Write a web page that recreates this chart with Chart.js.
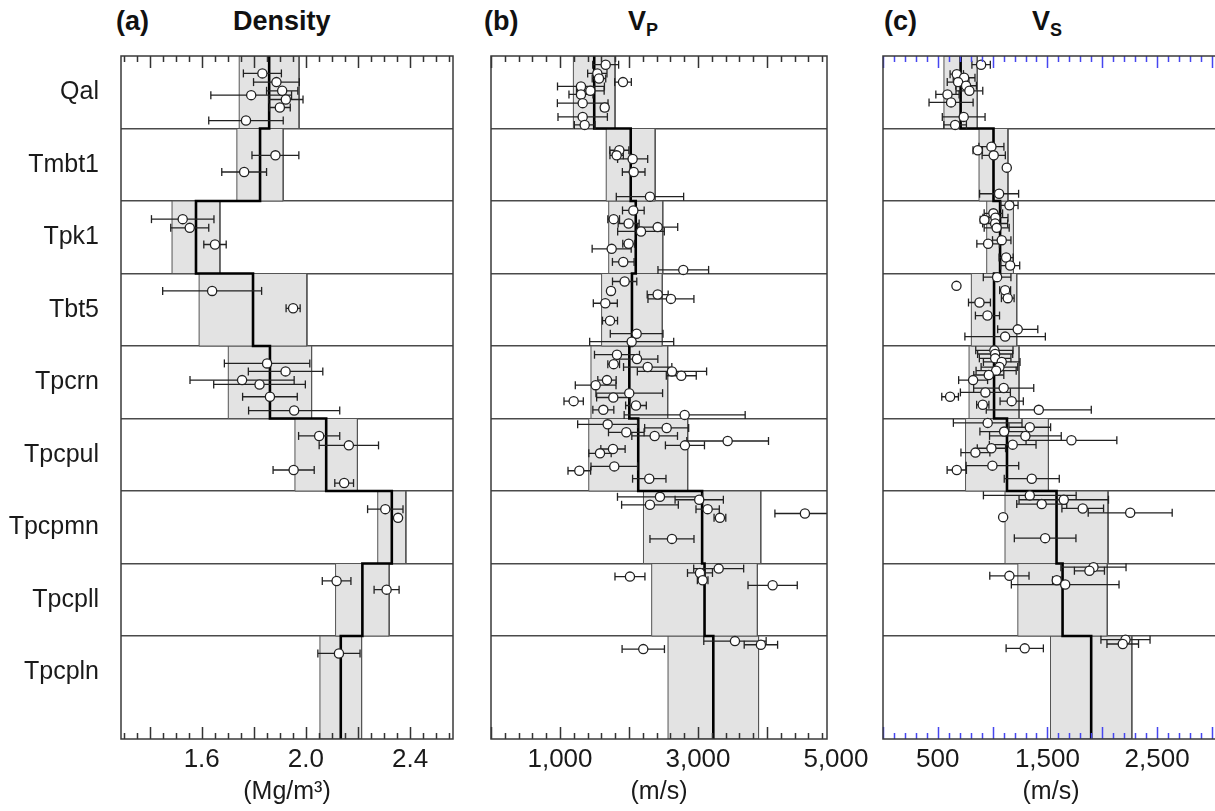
<!DOCTYPE html>
<html>
<head>
<meta charset="utf-8">
<script src="https://cdn.jsdelivr.net/npm/chart.js@4.4.0/dist/chart.umd.min.js"></script>
<style>
    body { margin: 0; width: 1215px; height: 811px; overflow: hidden; background: #fff; position: relative; font-family: "Liberation Sans", Arial, sans-serif; color: #111; }
    .panel { position: absolute; top: 0; height: 811px; }
    .tag { position: absolute; top: 8px; font-size: 27px; line-height: 27px; font-weight: bold; white-space: nowrap; }
    .tag sub { font-size: 18px; vertical-align: -6px; }
</style>
</head>
<body>
<div class="tag" style="left:116px">(a)</div>
<div class="tag" style="left:233px">Density</div>
<div class="tag" style="left:484px">(b)</div>
<div class="tag" style="left:628px">V<sub>P</sub></div>
<div class="tag" style="left:884px">(c)</div>
<div class="tag" style="left:1032px">V<sub>S</sub></div>

<div class="panel" style="left:0;width:470px"><canvas id="rho"></canvas></div>
<div class="panel" style="left:470px;width:410px"><canvas id="vp"></canvas></div>
<div class="panel" style="left:862px;width:370px"><canvas id="vs"></canvas></div>

<script>
const units = ["Qal", "Tmbt1", "Tpk1", "Tbt5", "Tpcrn", "Tpcpul", "Tpcpmn", "Tpcpll", "Tpcpln"];
// unit boundaries on the depth axis (last unit is thicker)
const rowEdges = [0, 1, 2, 3, 4, 5, 6, 7, 8, 9.42];

const rhoTicks = [1.6, 2.0, 2.4];
const vpTicks = [1000, 3000, 5000];
const vsTicks = [500, 1500, 2500];

// unit mean and standard deviation
const rhoMean = [1.859, 1.824, 1.578, 1.797, 1.862, 2.078, 2.33, 2.217, 2.134];
const rhoSd = [0.115, 0.089, 0.092, 0.207, 0.16, 0.12, 0.054, 0.103, 0.08];
const vpMean = [1496, 2025, 2098, 2043, 2005, 2134, 3060, 3095, 3222];
const vpSd = [302, 355, 392, 440, 556, 717, 850, 766, 656];
const vsMean = [708, 1008, 1068, 1013, 1013, 1131, 1583, 1638, 1899];
const vsSd = [152, 132, 122, 207, 228, 378, 470, 408, 371];

// samples: [depth position, value, error]
const rhoPts = [
    [0.24, 1.833, 0.073], [0.36, 1.887, 0.088], [0.48, 1.909, 0.06], [0.54, 1.79, 0.155],
    [0.60, 1.923, 0.066], [0.71, 1.90, 0.04], [0.89, 1.77, 0.143],
    [1.37, 1.883, 0.09], [1.60, 1.763, 0.086],
    [2.25, 1.527, 0.12], [2.37, 1.554, 0.073], [2.60, 1.651, 0.043],
    [3.24, 1.64, 0.19], [3.48, 1.951, 0.027],
    [4.24, 1.851, 0.164], [4.35, 1.922, 0.143], [4.47, 1.755, 0.2], [4.53, 1.822, 0.176],
    [4.70, 1.862, 0.105], [4.89, 1.955, 0.175],
    [5.24, 2.051, 0.079], [5.37, 2.165, 0.114], [5.71, 1.953, 0.079], [5.89, 2.147, 0.036],
    [6.25, 2.305, 0.068], [6.37, 2.354, 0.01],
    [7.24, 2.118, 0.055], [7.36, 2.31, 0.048],
    [8.24, 2.127, 0.081]
];
const vpPts = [
    [0.12, 1662, 188], [0.24, 1541, 140], [0.31, 1565, 98], [0.36, 1913, 121], [0.42, 1304, 340],
    [0.48, 1440, 200], [0.53, 1304, 174], [0.65, 1329, 367], [0.71, 1648, 50], [0.84, 1329, 358], [0.95, 1358, 150],
    [1.30, 1860, 138], [1.37, 1821, 97], [1.42, 2053, 218], [1.60, 2068, 164], [1.94, 2304, 488],
    [2.13, 2063, 157], [2.25, 1778, 85], [2.31, 1995, 152], [2.36, 2416, 290], [2.42, 2174, 338],
    [2.59, 1995, 85], [2.66, 1749, 283], [2.84, 1917, 157], [2.95, 2787, 367],
    [3.11, 1937, 176], [3.24, 1739, 40], [3.29, 2416, 152], [3.35, 2608, 333], [3.41, 1657, 174],
    [3.65, 1725, 109], [3.83, 2111, 382], [3.94, 2039, 609],
    [4.12, 1826, 326], [4.18, 2116, 302], [4.25, 1778, 85], [4.29, 2271, 350], [4.35, 2623, 502],
    [4.41, 2758, 217], [4.47, 1681, 133], [4.54, 1517, 295], [4.65, 2004, 483], [4.71, 1773, 242],
    [4.76, 1198, 140], [4.82, 2101, 150], [4.88, 1628, 152], [4.95, 2807, 877],
    [5.08, 1691, 435], [5.13, 2546, 319], [5.19, 1961, 258], [5.24, 2372, 331], [5.31, 3430, 592],
    [5.37, 2811, 283], [5.42, 1768, 176], [5.48, 1580, 162], [5.66, 1787, 338], [5.72, 1280, 164], [5.83, 2294, 242],
    [6.08, 2449, 616], [6.12, 3018, 350], [6.19, 2304, 411], [6.25, 3140, 169], [6.31, 4550, 435],
    [6.37, 3318, 85], [6.66, 2623, 319],
    [7.07, 3300, 362], [7.13, 3029, 181], [7.18, 2014, 217], [7.23, 3068, 77], [7.30, 4082, 357],
    [8.07, 3536, 452], [8.12, 3912, 242], [8.18, 2207, 307]
];
const vsPts = [
    [0.12, 895, 84], [0.25, 673, 61], [0.30, 740, 99], [0.36, 685, 99], [0.41, 758, 94],
    [0.48, 788, 122], [0.53, 588, 106], [0.64, 621, 201], [0.84, 736, 195], [0.95, 658, 103],
    [1.25, 989, 114], [1.30, 864, 43], [1.37, 1010, 106], [1.54, 1129, 20], [1.90, 1059, 178],
    [2.06, 1153, 79], [2.17, 1007, 84], [2.23, 1026, 114], [2.26, 925, 38], [2.31, 1023, 114],
    [2.37, 1037, 114], [2.54, 1083, 84], [2.59, 959, 103], [2.78, 1123, 64], [2.89, 1160, 87],
    [3.05, 1041, 126], [3.17, 670, 15], [3.23, 1114, 50], [3.34, 1138, 58], [3.40, 880, 100],
    [3.58, 953, 110], [3.77, 1229, 183], [3.87, 1114, 367],
    [4.06, 1016, 170], [4.11, 1023, 160], [4.17, 1023, 144], [4.22, 1083, 167], [4.29, 1062, 167],
    [4.34, 1032, 183], [4.40, 965, 137], [4.47, 822, 132], [4.58, 1101, 274], [4.64, 934, 228],
    [4.70, 612, 76], [4.76, 1174, 106], [4.81, 910, 56], [4.88, 1421, 479],
    [5.06, 955, 313], [5.12, 1339, 190], [5.18, 1105, 221], [5.24, 1299, 327], [5.30, 1719, 414],
    [5.36, 1183, 213], [5.41, 989, 129], [5.47, 843, 132], [5.65, 998, 240], [5.71, 673, 88], [5.83, 1357, 251],
    [6.06, 1339, 423], [6.12, 1649, 408], [6.18, 1448, 228], [6.24, 1822, 190], [6.30, 2255, 383],
    [6.36, 1096, 20], [6.65, 1479, 281],
    [7.05, 1920, 297], [7.10, 1883, 137], [7.17, 1153, 179], [7.23, 1585, 38], [7.29, 1662, 491],
    [8.05, 2212, 224], [8.11, 2187, 144], [8.17, 1293, 170]
];

const ink = "#222";
const gap = { x: NaN, y: NaN };

// frame + inward tick marks along top and bottom
const frame = {
    id: "frame",
    afterDatasetsDraw(chart, args, o) {
        const { ctx, chartArea: a } = chart;
        const x = chart.scales.x;
        ctx.save();
        ctx.strokeStyle = o.color;
        ctx.lineWidth = 1.5;
        for (let k = Math.ceil(x.min / o.minor); k * o.minor <= x.max; k++) {
            const px = Math.round(x.getPixelForValue(k * o.minor)) + 0.5;
            const len = k % o.every === 0 ? 12 : 6;
            ctx.beginPath();
            ctx.moveTo(px, a.top); ctx.lineTo(px, a.top + len);
            ctx.moveTo(px, a.bottom); ctx.lineTo(px, a.bottom - len);
            ctx.stroke();
        }
        ctx.strokeStyle = "#3a3a3a";
        ctx.lineWidth = 1.5;
        ctx.strokeRect(a.left, a.top, a.width, a.height);
        ctx.restore();
    }
};

function buildDatasets(mean, sd, pts) {
    const sets = mean.map((m, i) => ({
        type: "line",
        data: [
            { x: m - sd[i], y: rowEdges[i] }, { x: m + sd[i], y: rowEdges[i] },
            { x: m + sd[i], y: rowEdges[i + 1] }, { x: m - sd[i], y: rowEdges[i + 1] },
            { x: m - sd[i], y: rowEdges[i] }
        ],
        fill: "shape",
        backgroundColor: "#e3e3e3",
        borderColor: "#555",
        borderWidth: 1,
        pointRadius: 0,
        order: 5
    }));

    const step = [];
    mean.forEach((m, i) => { step.push({ x: m, y: rowEdges[i] }, { x: m, y: rowEdges[i + 1] }); });
    sets.push({ type: "line", data: step, borderColor: "#000", borderWidth: 2.6, pointRadius: 0, fill: false, order: 4 });

    const bars = [];
    pts.forEach(p => { bars.push({ x: p[1] - p[2], y: p[0] }, { x: p[1] + p[2], y: p[0] }, gap); });
    sets.push({ type: "line", data: bars, borderColor: ink, borderWidth: 1.3, pointRadius: 0, fill: false, spanGaps: false, order: 3 });

    const caps = [];
    pts.forEach(p => { caps.push({ x: p[1] - p[2], y: p[0] }, { x: p[1] + p[2], y: p[0] }); });
    sets.push({ type: "scatter", data: caps, pointStyle: "line", rotation: 90, pointRadius: 4, borderColor: ink, borderWidth: 1.3, order: 2 });

    sets.push({
        type: "scatter",
        data: pts.map(p => ({ x: p[1], y: p[0] })),
        pointStyle: "circle", pointRadius: 4.6, backgroundColor: "#fff", borderColor: ink, borderWidth: 1.3, order: 1
    });
    return sets;
}

function makePanel(id, cfg) {
    const yTicks = [];
    units.forEach((u, i) => { if (i) yTicks.push(i); yTicks.push(i + 0.5); });

    new Chart(document.getElementById(id), {
        type: "scatter",
        data: { datasets: buildDatasets(cfg.mean, cfg.sd, cfg.pts) },
        plugins: [frame],
        options: {
            responsive: false,
            animation: false,
            events: [],
            layout: { padding: { top: 56, right: cfg.padRight, left: 0, bottom: 0 } },
            plugins: {
                legend: { display: false },
                tooltip: { enabled: false },
                frame: { minor: cfg.minor, every: cfg.every, color: cfg.tickColor }
            },
            scales: {
                x: {
                    type: "linear", min: cfg.min, max: cfg.max,
                    afterBuildTicks: s => { s.ticks = cfg.ticks.map(v => ({ value: v })); },
                    ticks: {
                        autoSkip: false, maxRotation: 0, padding: 5, color: "#1a1a1a",
                        font: { family: "Liberation Sans", size: 26 },
                        callback: cfg.fmt
                    },
                    grid: { display: false, drawTicks: false },
                    border: { display: false },
                    title: {
                        display: true, text: cfg.unit, color: "#1a1a1a",
                        font: { family: "Liberation Sans", size: 25 }, padding: { top: 0, bottom: 4 }
                    },
                    afterFit: s => { s.height = 72; }
                },
                y: {
                    type: "linear", reverse: true, min: rowEdges[0], max: rowEdges[rowEdges.length - 1],
                    afterBuildTicks: s => { s.ticks = yTicks.map(v => ({ value: v })); },
                    ticks: {
                        display: cfg.labels, autoSkip: false, padding: 22, color: "#1a1a1a",
                        font: { family: "Liberation Sans", size: 25 },
                        callback: v => Number.isInteger(v) ? "" : units[Math.floor(v)]
                    },
                    grid: {
                        drawTicks: false, lineWidth: 1.5,
                        color: c => Number.isInteger(c.tick.value) ? "#4a4a4a" : "rgba(0,0,0,0)"
                    },
                    border: { display: false },
                    afterFit: s => { s.width = cfg.left; }
                }
            }
        }
    });
}

function setSize(id, w) {
    const c = document.getElementById(id);
    c.width = w; c.height = 811;
    c.style.width = w + "px"; c.style.height = "811px";
}

window.addEventListener("load", () => {
    setSize("rho", 470);
    setSize("vp", 410);
    setSize("vs", 370);

    makePanel("rho", {
        mean: rhoMean, sd: rhoSd, pts: rhoPts, ticks: rhoTicks, unit: "(Mg/m³)",
        min: 1.29, max: 2.565, fmt: v => v.toFixed(1),
        minor: 0.05, every: 4, tickColor: "#333", labels: true, left: 121, padRight: 17
    });
    makePanel("vp", {
        mean: vpMean, sd: vpSd, pts: vpPts, ticks: vpTicks, unit: "(m/s)",
        min: 0, max: 4870, fmt: v => v.toLocaleString("en-US"),
        minor: 200, every: 5, tickColor: "#333", labels: false, left: 21, padRight: 53
    });
    makePanel("vs", {
        mean: vsMean, sd: vsSd, pts: vsPts, ticks: vsTicks, unit: "(m/s)",
        min: 0, max: 3065, fmt: v => v.toLocaleString("en-US"),
        minor: 100, every: 5, tickColor: "#4646f0", labels: false, left: 21, padRight: 13
    });
});
</script>
</body>
</html>
